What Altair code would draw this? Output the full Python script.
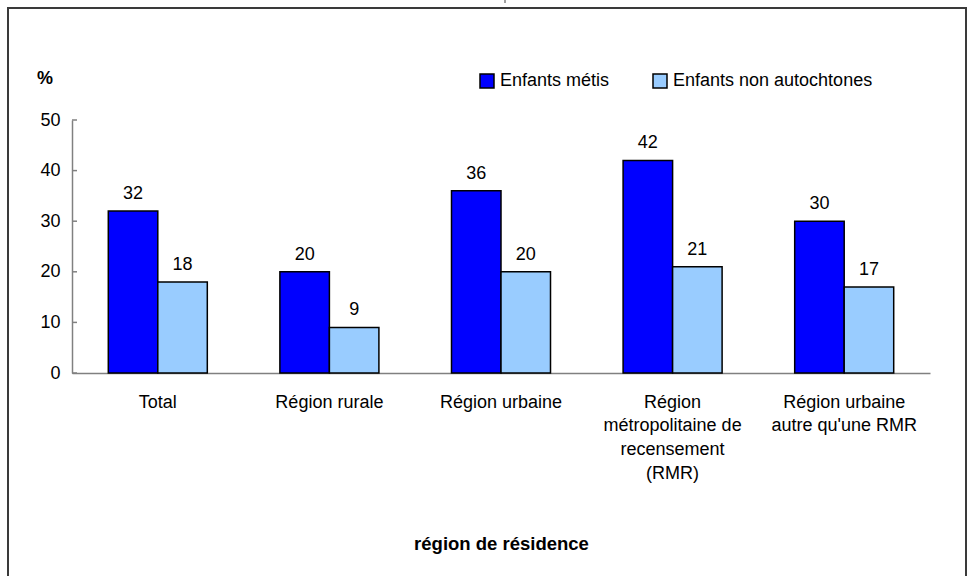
import altair as alt
import pandas as pd

# Categories (axis labels use "|" as a line break)
categories = [
    "Total",
    "Région rurale",
    "Région urbaine",
    "Région|métropolitaine de|recensement|(RMR)",
    "Région urbaine|autre qu'une RMR",
]
series = ["Enfants métis", "Enfants non autochtones"]
metis = [32, 20, 36, 42, 30]
non_autochtones = [18, 9, 20, 21, 17]
y_ticks = [0, 10, 20, 30, 40, 50]
colors = ["#0000FF", "#99CCFF"]

FONT = "Liberation Sans, Arial, sans-serif"
FS = 18

rows = []
for c, a, b in zip(categories, metis, non_autochtones):
    rows.append({"cat": c, "serie": series[0], "val": a})
    rows.append({"cat": c, "serie": series[1], "val": b})
df = pd.DataFrame(rows)
ticks_df = pd.DataFrame({"t": y_ticks})
one = pd.DataFrame({"k": [0]})

x_enc = alt.X(
    "cat:N",
    sort=categories,
    scale=alt.Scale(paddingInner=0.423, paddingOuter=0.2115),
    axis=alt.Axis(
        title="région de résidence",
        titleFont=FONT,
        titleFontSize=18.5,
        titleFontWeight="bold",
        titleColor="black",
        titleBaseline="middle",
        titleY=170,
        labelExpr="split(datum.label, '|')",
        labelAngle=0,
        labelFont=FONT,
        labelFontSize=FS,
        labelLineHeight=23.7,
        labelColor="black",
        labelPadding=20,
        labelLimit=300,
        ticks=False,
        domainColor="#808080",
        domainWidth=1.5,
    ),
)
y_scale = alt.Scale(domain=[0, 50], nice=False)
y_enc = alt.Y(
    "val:Q",
    scale=y_scale,
    axis=alt.Axis(
        title=None,
        values=y_ticks,
        grid=False,
        ticks=False,
        labelFont=FONT,
        labelFontSize=FS,
        labelColor="black",
        labelPadding=12,
        domainColor="#808080",
        domainWidth=1.5,
    ),
)

bars = alt.Chart(df).mark_bar(stroke="black", strokeWidth=1.5).encode(
    x=x_enc,
    xOffset=alt.XOffset("serie:N", sort=series),
    y=y_enc,
    color=alt.Color(
        "serie:N",
        sort=series,
        scale=alt.Scale(domain=series, range=colors),
        legend=alt.Legend(
            title=None,
            orient="none",
            direction="horizontal",
            legendX=406,
            legendY=-48,
            symbolType="square",
            symbolSize=196,
            symbolStrokeColor="black",
            symbolStrokeWidth=1.5,
            labelFont=FONT,
            labelFontSize=FS,
            labelColor="black",
            labelOffset=4,
            columnPadding=40,
            labelLimit=300,
        ),
    ),
)

labels = alt.Chart(df).mark_text(
    font=FONT, fontSize=FS, color="black", baseline="alphabetic", dy=-12
).encode(
    x=alt.X("cat:N", sort=categories),
    xOffset=alt.XOffset("serie:N", sort=series),
    y=alt.Y("val:Q", scale=y_scale),
    text=alt.Text("val:Q", format="d"),
)

# inward tick marks on the value axis
yticks = alt.Chart(ticks_df).mark_rule(color="#808080", strokeWidth=1.5).encode(
    x=alt.value(0),
    x2=alt.value(5),
    y=alt.Y("t:Q", scale=y_scale),
)

percent = alt.Chart(one).mark_text(
    text="%", font=FONT, fontSize=FS, fontWeight="bold", color="black",
    baseline="alphabetic", align="center",
).encode(x=alt.value(-27), y=alt.value(-36))

frame = alt.Chart(one).mark_rect(
    fillOpacity=0, stroke="#3a3a3a", strokeWidth=2
).encode(
    x=alt.value(-64), x2=alt.value(894), y=alt.value(-112), y2=alt.value(470)
)

top_mark = alt.Chart(one).mark_rule(color="#444444", strokeWidth=1).encode(
    x=alt.value(433), y=alt.value(-120), y2=alt.value(-117)
)

chart = (
    alt.layer(frame, top_mark, bars, labels, yticks, percent)
    .properties(
        width=858,
        height=253,
        autosize=alt.AutoSizeParams(type="none"),
        padding={"left": 72, "top": 120, "right": 41, "bottom": 203},
        background="white",
    )
    .configure_view(stroke=None)
)

chart.save("out.html", embed_options={"renderer": "svg", "actions": False})
